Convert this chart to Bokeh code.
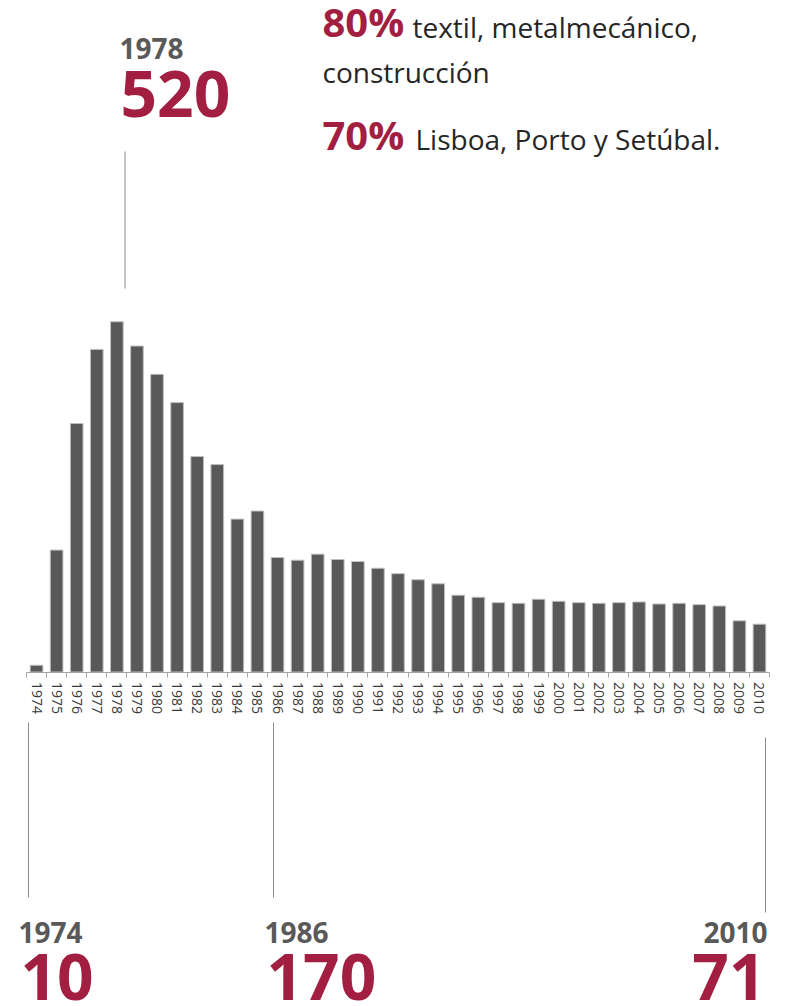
from bokeh.plotting import figure
from bokeh.models import LinearAxis, FixedTicker, Range1d
from bokeh.core.properties import value
from bokeh.embed import file_html
from bokeh.resources import INLINE

# ---------------- data ----------------
years = list(range(1974, 2011))
values = [10, 181, 369, 479, 520, 484, 442, 400, 320, 308, 227, 239, 170,
          166, 175, 167, 164, 154, 146, 137, 131, 114, 111, 103, 102, 108,
          105, 103, 102, 103, 104, 101, 102, 100, 98, 76, 71]
peak_year = 1978
bottom_years = [1974, 1986, 2010]
note_pcts = ["80%", "70%"]
note_texts = [["textil, metalmecánico,", "construcción"],
              ["Lisboa, Porto y Setúbal."]]

# ---------------- layout helpers ----------------
W, H = 786, 1006
PXU = 743 / 37.0                 # pixels per year
X0 = 1973.5 - 26 / PXU           # data x at left edge of frame
Y0PX = 671.5                     # pixel row (from top) of value 0
PYU = 0.6735                     # pixels per unit
BASE_SHIFT = 0.39                # em offset of rendered baseline


def dx(px):
    return X0 + px / PXU


def dy(py):
    return (Y0PX - py) / PYU


def tb(baseline, size):
    return dy(baseline - BASE_SHIFT * size)


FONT = value("Open Sans")
CRIMSON = "#A21F42"
GRAY = "#595959"
TEXT = "#262626"

p = figure(width=W, height=H, output_backend="svg", toolbar_location=None,
           x_range=Range1d(X0, X0 + W / PXU), y_range=Range1d(dy(H), dy(0)),
           x_axis_location=None, y_axis_location=None, min_border=0)
p.outline_line_color = None
p.xgrid.visible = False
p.ygrid.visible = False
p.background_fill_color = "white"

p.vbar(x=years, top=values, bottom=0, width=0.63, fill_color=GRAY,
       line_color="#bfbfbf", line_width=1)

# axis with boundary ticks
ax_ticks = LinearAxis(fixed_location=0,
                      ticker=FixedTicker(ticks=[y - 0.5 for y in years] + [years[-1] + 0.5]),
                      bounds=(years[0] - 0.5, years[-1] + 0.5),
                      axis_line_color="#a6a6a6", major_tick_line_color="#a6a6a6",
                      major_tick_out=5, major_tick_in=0,
                      minor_tick_line_color=None, major_label_text_alpha=0,
                      major_label_text_font_size="14px")
# axis with year labels
ax_labels = LinearAxis(fixed_location=0, ticker=FixedTicker(ticks=years),
                       axis_line_color=None, major_tick_line_color=None,
                       major_tick_out=5, major_tick_in=0, minor_tick_line_color=None,
                       major_label_orientation="vertical", major_label_standoff=5,
                       major_label_text_font="Open Sans",
                       major_label_text_font_size="14px",
                       major_label_text_color="#3a3a3a")
p.add_layout(ax_ticks, "below")
p.add_layout(ax_labels, "below")

# ---------------- peak annotation ----------------
peak_val = values[years.index(peak_year)]
p.segment(x0=[dx(124.5)], y0=[dy(151)], x1=[dx(124.5)], y1=[dy(288)],
          line_color="#8c8c8c", line_width=1)
p.text(x=[dx(119)], y=[tb(59, 28)], text=[str(peak_year)], text_font=FONT,
       text_font_size="28px", text_font_style="bold", text_color=GRAY,
       text_baseline="alphabetic", text_align="left")
p.text(x=[dx(120)], y=[tb(118, 64)], text=[str(peak_val)], text_font=FONT,
       text_font_size="64px", text_font_style="bold", text_color=CRIMSON,
       text_baseline="alphabetic", text_align="left")

# ---------------- notes ----------------
p.text(x=[dx(322), dx(322)], y=[tb(37, 40), tb(150, 40)], text=note_pcts, text_font=FONT,
       text_font_size="40px", text_font_style="bold", text_color=CRIMSON,
       text_baseline="alphabetic", text_align="left")
p.text(x=[dx(412), dx(322), dx(415)], y=[tb(37, 28), tb(82, 28), tb(149, 28)],
       text=[note_texts[0][0], note_texts[0][1], note_texts[1][0]], text_font=FONT,
       text_font_size="28px", text_color=TEXT,
       text_baseline="alphabetic", text_align="left")

# ---------------- bottom annotations ----------------
line_x = [28, 273, 765]
line_top = [722, 722, 737]
line_bot = [897, 897, 912]
p.segment(x0=[dx(v) for v in line_x], y0=[dy(v) for v in line_top],
          x1=[dx(v) for v in line_x], y1=[dy(v) for v in line_bot],
          line_color="#8c8c8c", line_width=1)

b_vals = [values[years.index(y)] for y in bottom_years]
yr_x = [18, 264, 767]
num_x = [20, 266, 765]
aligns = ["left", "left", "right"]
for i in range(3):
    p.text(x=[dx(yr_x[i])], y=[tb(943, 28)], text=[str(bottom_years[i])], text_font=FONT,
           text_font_size="28px", text_font_style="bold", text_color=GRAY,
           text_baseline="alphabetic", text_align=aligns[i])
    p.text(x=[dx(num_x[i])], y=[tb(1001, 64)], text=[str(b_vals[i])], text_font=FONT,
           text_font_size="64px", text_font_style="bold", text_color=CRIMSON,
           text_baseline="alphabetic", text_align=aligns[i])

open("out.html", "w").write(file_html(p, INLINE))
